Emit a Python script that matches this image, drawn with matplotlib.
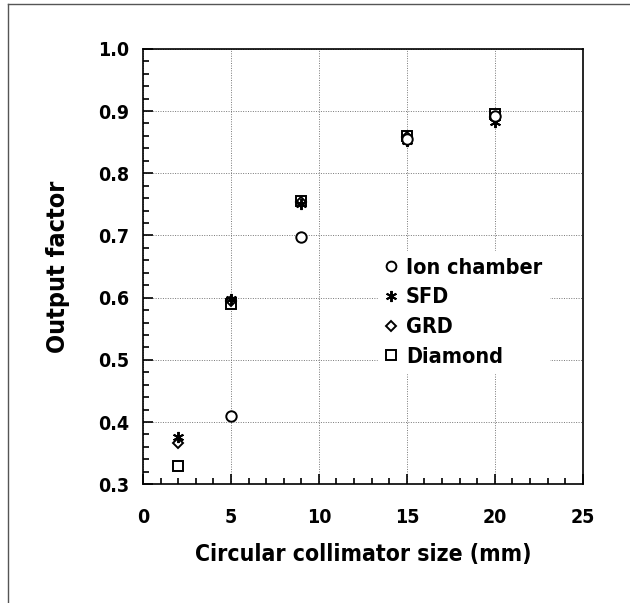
import matplotlib
matplotlib.use("Agg")
from matplotlib import pyplot as plt
from matplotlib.lines import Line2D
from matplotlib.ticker import MultipleLocator, FormatStrFormatter

# collimator sizes (mm)
sizes = [2, 5, 9, 15, 20]
ion_sizes = [5, 9, 15, 20]

ion_chamber = [0.410, 0.698, 0.855, 0.892]
sfd = [0.376, 0.597, 0.750, 0.852, 0.882]
grd = [0.366, 0.594, 0.754, 0.858, 0.891]
diamond = [0.330, 0.589, 0.755, 0.860, 0.895]

plt.rcParams["font.family"] = ["DejaVu Sans"]
plt.rcParams["font.stretch"] = "condensed"
plt.rcParams["font.weight"] = "bold"

fig = plt.figure(figsize=(6.3, 6.03), dpi=100)
ax = fig.add_axes([0.227, 0.197, 0.698, 0.722])

mk = dict(linestyle="none", color="black", markerfacecolor="white", markeredgewidth=1.4)
ax.plot(sizes, diamond, marker="s", markersize=7, **mk)
ax.plot(sizes, grd, marker="D", markersize=5.5, **mk)
ax.plot(sizes, sfd, marker=(6, 2, 0), markersize=8, **mk)
ax.plot(ion_sizes, ion_chamber, marker="o", markersize=7.5, **mk)

ax.set_xlim(0, 25)
ax.set_ylim(0.3, 1.0)
ax.xaxis.set_major_locator(MultipleLocator(5))
ax.xaxis.set_minor_locator(MultipleLocator(1))
ax.yaxis.set_major_locator(MultipleLocator(0.1))
ax.yaxis.set_minor_locator(MultipleLocator(0.02))
ax.yaxis.set_major_formatter(FormatStrFormatter("%.1f"))

ax.grid(True, which="major", color="#777777", linestyle=(0, (1, 1.5)), linewidth=0.7)
ax.set_axisbelow(True)
ax.tick_params(which="both", direction="in", labelsize=14, width=1.2)
ax.tick_params(which="major", length=7, pad=10)
ax.tick_params(axis="x", which="major", pad=17)
ax.tick_params(which="minor", length=4)
for s in ax.spines.values():
    s.set_linewidth(1.2)

ax.set_xlabel("Circular collimator size (mm)", fontsize=16.5, fontweight="bold", labelpad=12)
ax.set_ylabel("Output factor", fontsize=18, fontweight="bold", labelpad=20)

handles = [
    Line2D([], [], marker="o", markersize=7, **mk),
    Line2D([], [], marker=(6, 2, 0), markersize=8, **mk),
    Line2D([], [], marker="D", markersize=5, **mk),
    Line2D([], [], marker="s", markersize=6.5, **mk),
]
labels = ["Ion chamber", "SFD", "GRD", "Diamond"]
ax.legend(handles, labels, loc="center left", bbox_to_anchor=(0.51, 0.395),
          frameon=True, fancybox=False, edgecolor="white", framealpha=1,
          prop={"weight": "bold", "size": 15.5, "stretch": "condensed"},
          handlelength=0.6, handletextpad=0.4, labelspacing=0.45, borderpad=0.3)

# page border on top and left
fig.add_artist(Line2D([8 / 630, 1.0], [1 - 4 / 603, 1 - 4 / 603], color="#555555", lw=1))
fig.add_artist(Line2D([8 / 630, 8 / 630], [0.0, 1 - 4 / 603], color="#555555", lw=1))

fig.savefig("out.png", dpi=100)
